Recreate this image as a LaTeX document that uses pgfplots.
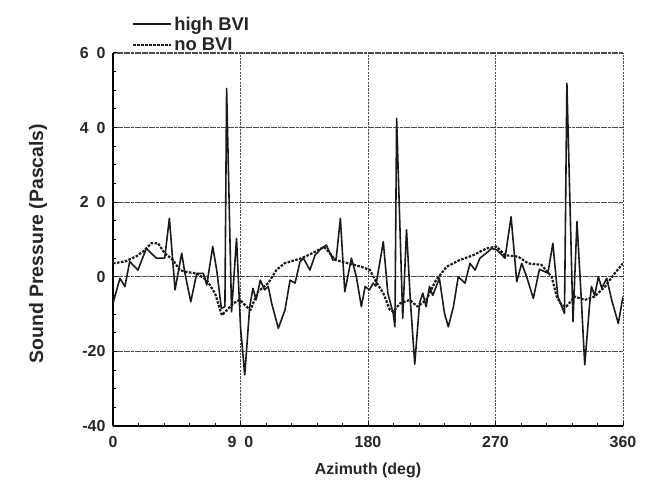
\documentclass[border=0pt]{standalone}
\usepackage{fontspec}
\setmainfont{Liberation Sans}
\usepackage{pgfplots}
\pgfplotsset{compat=1.18}

\definecolor{curve}{HTML}{1A1A1A}
\definecolor{gridc}{HTML}{4A4A4A}

\pgfplotstableread{
az p
0 -7.1
4.9 -0.4
8.4 -2.6
11.8 4.1
17.6 1.8
23.5 7.6
30.6 5.0
36.5 5.0
39.8 15.7
43.8 -3.5
48.5 6.3
50.8 0.9
54.9 -6.7
59.1 0.9
63.8 0.9
66.2 -2.2
70.4 8.1
73.2 1.8
76.5 -8.5
79.0 -8.0
80.2 50.5
83.7 -9.4
87.2 10.3
90.0 -13.4
93.0 -26.3
96.5 -8.0
98.8 -3.1
101.0 -6.2
104.0 -0.9
107.0 -3.5
109.6 -2.6
112.0 -7.1
116.7 -13.8
121.4 -8.9
125.0 -0.9
128.5 -1.7
132.0 4.0
134.4 5.0
139.0 1.8
142.6 5.8
147.0 7.6
150.6 8.5
155.3 4.5
157.6 5.0
160.5 15.7
163.6 -4.0
168.3 5.0
171.8 0.0
175.3 -8.0
178.0 -2.6
181.0 -3.5
183.7 -1.7
185.5 -2.5
190.8 9.4
194.0 -4.4
197.8 -9.8
199.0 -13.4
200.2 42.5
204.5 -11.1
207.2 12.6
210.0 -7.0
213.0 -23.4
216.4 -7.0
218.7 -4.4
221.0 -8.0
223.4 -2.6
225.7 -5.0
230.4 -0.4
234.0 -9.8
236.7 -13.4
240.3 -8.0
243.7 0.0
248.5 -1.7
252.0 3.6
255.6 1.8
259.0 5.0
264.0 6.5
267.3 7.6
271.0 7.2
276.7 5.0
281.0 16.1
285.0 -1.3
288.5 3.6
292.0 0.0
296.7 -5.8
301.0 2.0
307.0 1.0
310.5 9.0
314.0 -5.3
318.7 -9.8
320.4 51.9
324.7 -12.0
327.5 14.8
330.6 -6.2
333.0 -23.6
336.5 -7.1
337.7 -2.6
340.0 -5.0
342.6 0.0
345.0 -3.0
348.5 -0.4
352.0 -6.2
356.7 -12.5
360.0 -5.3
}\highbvi

\pgfplotstableread{
az p
0 3.6
8.4 4.1
16.5 5.5
22.0 7.0
27.0 9.0
31.8 9.0
36.5 6.3
42.4 4.5
47.1 1.8
51.8 1.3
59.1 0.9
66.2 -0.9
72.0 -4.4
76.8 -10.3
80.2 -9.0
84.9 -7.1
89.6 -6.2
94.3 -8.0
97.0 -8.9
102.3 -4.0
109.6 -1.7
115.3 1.8
121.0 3.6
127.0 4.3
133.2 5.0
139.0 6.0
145.0 7.2
149.0 8.0
152.0 6.8
157.0 4.5
166.0 3.6
175.3 2.7
181.4 1.8
185.0 -0.9
190.8 -4.4
195.5 -8.9
198.0 -9.3
202.7 -7.1
209.5 -6.2
215.0 -8.0
221.0 -6.2
228.0 -0.9
235.5 2.7
244.8 4.5
254.3 5.8
263.6 7.6
270.8 8.1
276.7 5.8
286.0 5.4
293.0 3.6
302.4 3.2
309.7 0.0
313.2 -5.3
316.7 -7.6
320.0 -8.0
325.9 -5.3
333.0 -6.2
340.0 -5.3
347.3 -2.6
354.3 1.0
360.0 3.6
}\nobvi

\begin{document}
\begin{tikzpicture}
\path[use as bounding box] (-113bp,-59bp) rectangle (541bp,426bp);
\begin{axis}[
  scale only axis,
  width=510bp, height=373bp,
  xmin=0, xmax=360, ymin=-40, ymax=60,
  axis x line*=bottom, axis y line*=left,
  axis line style={draw=black, line width=1.2pt},
  tick align=inside,
  major tick length=4.5bp, minor tick length=3bp,
  every tick/.style={black, line width=1pt},
  xtick={0,90,180,270,360},
  xticklabels={0,9\hspace{0.5em}0,180,270,360},
  ytick={-40,-20,0,20,40,60},
  yticklabels={-40,-20,0,2\hspace{0.5em}0,4\hspace{0.5em}0,6\hspace{0.5em}0},
  minor x tick num=4, minor y tick num=3,
  xmajorgrids, ymajorgrids,
  x grid style={draw=gridc, line width=0.9pt, dash pattern=on 2.2pt off 1.2pt},
  y grid style={draw=gridc, line width=1.1pt, dash pattern=on 3pt off 0.6pt},
  /pgf/number format/assume math mode=true,
  tick label style={font=\fontsize{16}{18}\selectfont\bfseries, text=black!85},
  xticklabel style={yshift=-7bp},
  yticklabel style={xshift=-4bp},
  every axis x label/.style={at={(axis description cs:0.5,-0.118)}, anchor=center,
    font=\fontsize{16}{18}\selectfont\bfseries, text=black!85},
  every axis y label/.style={at={(axis description cs:-0.147,0.489)}, rotate=90, anchor=center,
    font=\fontsize{19.5}{22}\selectfont\bfseries, text=black!85},
  xlabel={Azimuth (deg)},
  ylabel={Sound Pressure (Pascals)},
  legend style={at={(axis description cs:0.037,1.0)}, anchor=south west,
    draw=none, fill=none, inner sep=0pt, row sep=4bp,
    font=\fontsize{18.5}{20}\selectfont\bfseries, cells={anchor=west},
    nodes={inner xsep=2bp, inner ysep=1bp, text=black!85}},
  legend image code/.code={\draw[#1] (0bp,0bp) -- (38bp,0bp);},
]
\addplot[curve, line width=1.6pt, line join=round] table[x=az, y=p] {\highbvi};
\addlegendentry{high BVI}
\addplot[curve, line width=2.2pt, dash pattern=on 2.6pt off 1.4pt, line join=round] table[x=az, y=p] {\nobvi};
\addlegendentry{no BVI}
\end{axis}
\end{tikzpicture}
\end{document}
